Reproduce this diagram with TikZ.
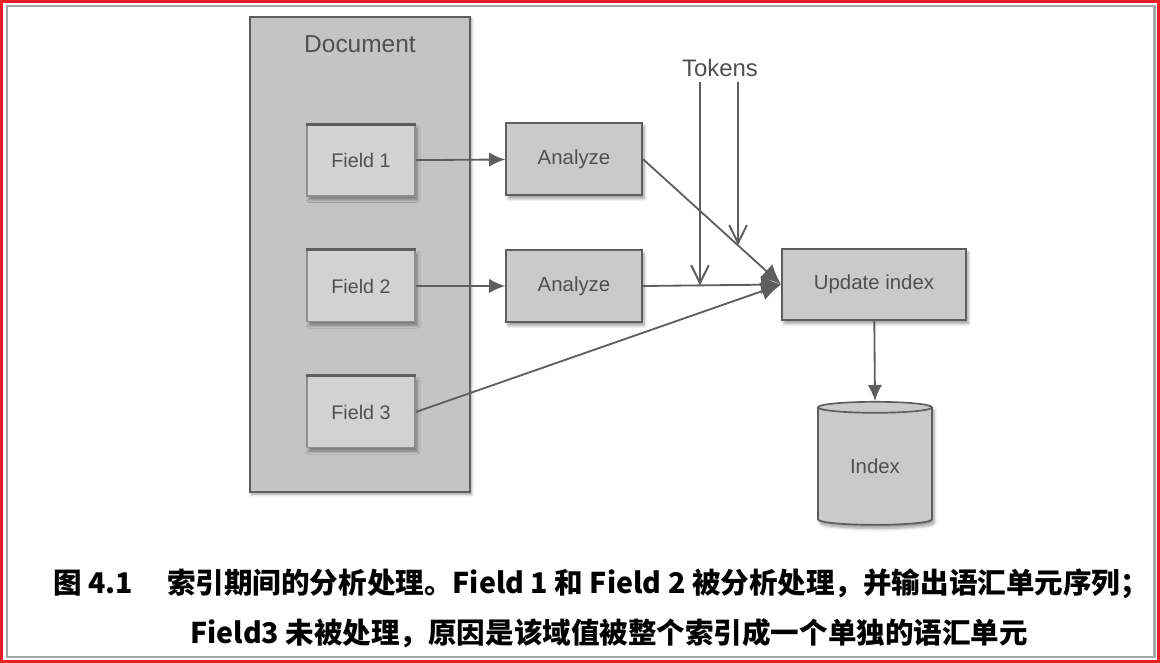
\documentclass[tikz,border=0pt]{standalone}
\usepackage{fontspec}
\setmainfont{Liberation Sans}
\newfontfamily\cjk{Noto Sans CJK SC}
\usepackage{xcolor}
\usetikzlibrary{arrows.meta,positioning,calc,shapes.geometric,shadows.blur}
\definecolor{boxgray}{HTML}{CACACA}
\definecolor{docgray}{HTML}{C4C4C4}
\definecolor{edgegray}{HTML}{5E5E5E}
\definecolor{txtgray}{HTML}{505050}
\definecolor{framered}{HTML}{E8202A}
\definecolor{framegray}{HTML}{A6A6A6}
\tikzset{
  box/.style    ={draw=edgegray,line width=1.2pt,fill=boxgray,inner sep=0pt,
                  text=txtgray,font=\fontsize{14.5}{17}\selectfont,
                  blur shadow={shadow xshift=1.5pt,shadow yshift=-2.5pt,shadow blur steps=6}},
  fieldbox/.style={box,minimum width=2.7cm,minimum height=1.775cm,fill=boxgray!85!white,
                  draw=edgegray!70,font=\fontsize{14}{17}\selectfont},
  anbox/.style  ={box,minimum width=3.4cm,minimum height=1.8cm},
  flow/.style   ={-{Latex[length=4mm,width=3.6mm]},line width=1.3pt,edgegray},
  bigflow/.style={-{Latex[length=5mm,width=4.6mm]},line width=1.3pt,edgegray},
  tok/.style    ={-{Straight Barb[length=4.5mm,width=4.4mm,line width=1.4pt]},line width=1.3pt,edgegray},
  captxt/.style ={font=\cjk\bfseries\fontsize{20.3}{24}\selectfont},
}

\begin{document}
\begin{tikzpicture}[x=0.025cm,y=-0.025cm]
  % frame
  \useasboundingbox (0,0) rectangle (1160,663);
  \draw[framered,line width=2.2pt] (1.5,1.5) rectangle (1158.5,661.5);
  \draw[framegray,line width=2pt] (7,6) rectangle (1154.5,657);
  % document and its fields
  \node[draw=edgegray,line width=1.2pt,fill=docgray,minimum width=5.5cm,minimum height=11.875cm,
        blur shadow={shadow xshift=1pt,shadow yshift=-1.5pt,shadow blur steps=4}] (doc) at (360,254.5) {};
  \node[text=txtgray,font=\fontsize{17.4}{20}\selectfont] (doclbl) at (360,44) {Document};
  \node[fieldbox] (f1) at (361,160.5) {Field 1};
  \node[fieldbox] (f2) at (361,286) {Field 2};
  \node[fieldbox] (f3) at (361,412) {Field 3};
  \foreach \f in {f1,f2,f3}
    \draw[edgegray,line width=2.2pt] (\f.north west) -- (\f.north east);
  % analyzers
  \node[anbox] (an1) at (574,159) {Analyze};
  \node[anbox] (an2) at (574,286) {Analyze};
  % index side
  \node[box,minimum width=4.6cm,minimum height=1.775cm] (upd) at (874,284.5) {Update index};
  \node[box,cylinder,shape border rotate=90,aspect=0.22,minimum width=2.85cm,minimum height=3.075cm]
       (idx) at (875,466.5) {Index};
  % tokens
  \node[text=txtgray,font=\fontsize{17}{20}\selectfont] (tokens) at (720,68) {Tokens};
  \coordinate (tka) at (700,82);
  \coordinate (tkb) at (738,82);
  \coordinate (updin) at (upd.west);
  % flows
  \draw[flow] (f1) -- (an1);
  \draw[flow] (f2) -- (an2);
  \draw[bigflow] (an1.east) -- (updin);
  \draw[bigflow] (an2.east) -- (updin);
  \draw[bigflow] (f3.east) -- (updin);
  \draw[flow] (upd) -- (idx.top);
  \draw[tok] (tka) -- (intersection of tka--{$(tka)+(0,300)$} and an2.east--updin);
  \draw[tok] (tkb) -- (intersection of tkb--{$(tkb)+(0,300)$} and an1.east--updin);
  % caption
  \node[captxt] (cap1) at (601,584) {图 4.1\hspace{1.2em}索引期间的分析处理。Field 1 和 Field 2 被分析处理，并输出语汇单元序列；};
  \node[captxt] (cap2) at (609,633) {Field3 未被处理，原因是该域值被整个索引成一个单独的语汇单元};
\end{tikzpicture}
\end{document}
